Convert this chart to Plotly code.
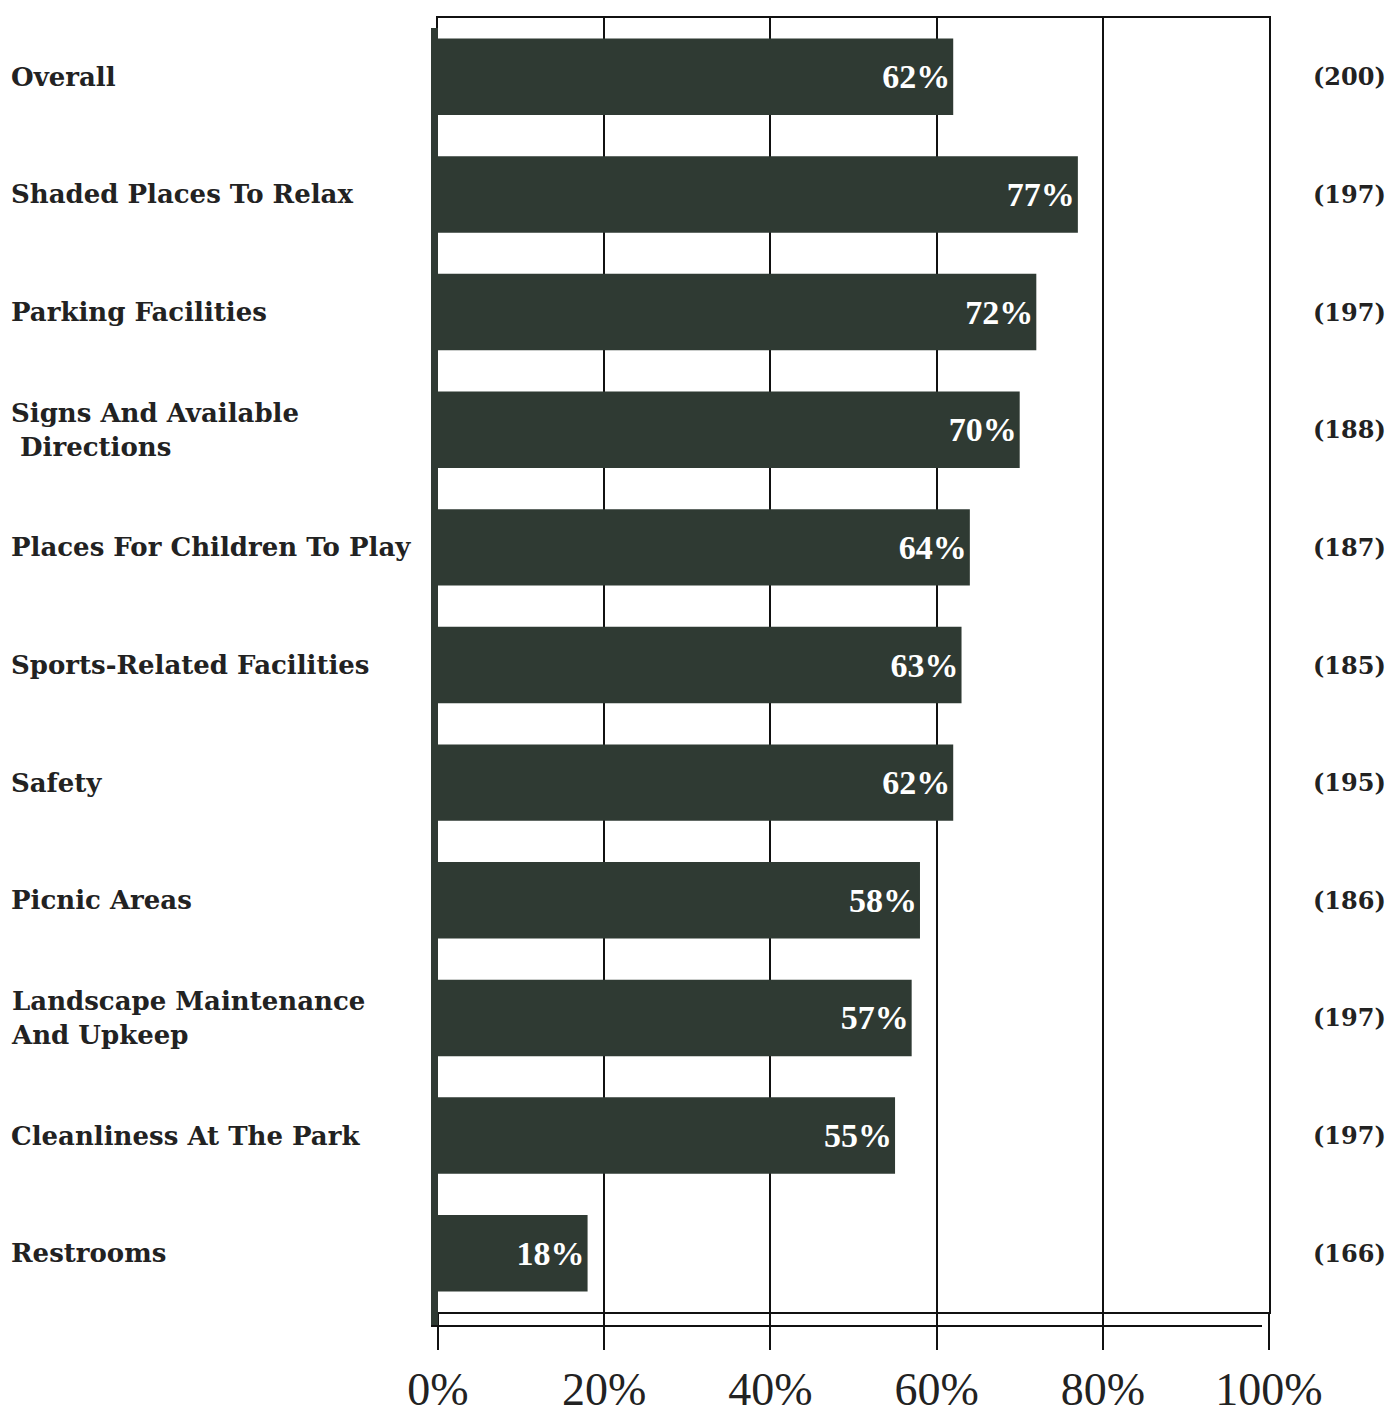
import plotly.graph_objects as go

categories = ["Overall", "Shaded Places To Relax", "Parking Facilities",
              "Signs And Available<br> Directions", "Places For Children To Play",
              "Sports-Related Facilities", "Safety", "Picnic Areas",
              "Landscape Maintenance<br>And Upkeep", "Cleanliness At The Park", "Restrooms"]
values = [62, 77, 72, 70, 64, 63, 62, 58, 57, 55, 18]
counts = [200, 197, 197, 188, 187, 185, 195, 186, 197, 197, 166]
tick_vals = [0, 20, 40, 60, 80, 100]
tick_text = ["0%", "20%", "40%", "60%", "80%", "100%"]

serif = "Liberation Serif, Times New Roman, serif"
label_font = "DejaVu Serif, serif"

W, H = 1395, 1427
L, R, T, B = 430, 134, 8, 123
pw = W - L - R
ph = H - T - B

fig = go.Figure()
fig.add_trace(go.Bar(
    y=list(range(len(categories))), x=values, orientation="h",
    marker=dict(color="#2f3a33", line=dict(width=0)),
    text=[f"<b>{v}%</b>" for v in values], textposition="inside", insidetextanchor="end",
    textfont=dict(family=serif, size=34, color="white"),
    width=0.65, cliponaxis=False, hoverinfo="skip"))

ann = []
for i, c in enumerate(categories):
    ann.append(dict(x=(1 - L) / pw, xref="paper", xanchor="left",
                    y=i, yref="y", text=f"<b>{c}</b>", showarrow=False, align="left",
                    font=dict(family=label_font, size=26, color="#222")))
    ann.append(dict(x=1, xref="paper", xshift=80, xanchor="center", y=i, yref="y",
                    text=f"<b>({counts[i]})</b>", showarrow=False,
                    font=dict(family=label_font, size=24, color="#222")))

fig.update_layout(
    width=W, height=H,
    margin=dict(l=L, r=R, t=T, b=B),
    paper_bgcolor="white", plot_bgcolor="white",
    showlegend=False, annotations=ann,
    xaxis=dict(range=[0, 100], tickvals=tick_vals, ticktext=tick_text,
               showgrid=True, gridcolor="#111", gridwidth=2,
               ticks="outside", ticklen=36, tickwidth=2, tickcolor="#111",
               tickfont=dict(family=serif, size=46, color="#222"),
               showline=True, linecolor="#111", linewidth=2, mirror=True, zeroline=False),
    yaxis=dict(range=[len(categories) - 0.5, -0.5], showticklabels=False,
               showgrid=False, showline=True, linecolor="#111", linewidth=2, mirror=True,
               ticks="", zeroline=False),
)
# left wall (3D side)
fig.add_shape(type="rect", xref="paper", yref="paper", x0=-7 / pw, x1=0, y0=-14 / ph, y1=1 - 10 / ph,
              fillcolor="#2f3a33", line=dict(width=0), layer="above")
# floor front edge
fig.add_shape(type="line", xref="paper", yref="paper", x0=-7 / pw, x1=1 - 7 / pw, y0=-14 / ph, y1=-14 / ph,
              line=dict(color="#111", width=2))
fig.write_html("out.html")
